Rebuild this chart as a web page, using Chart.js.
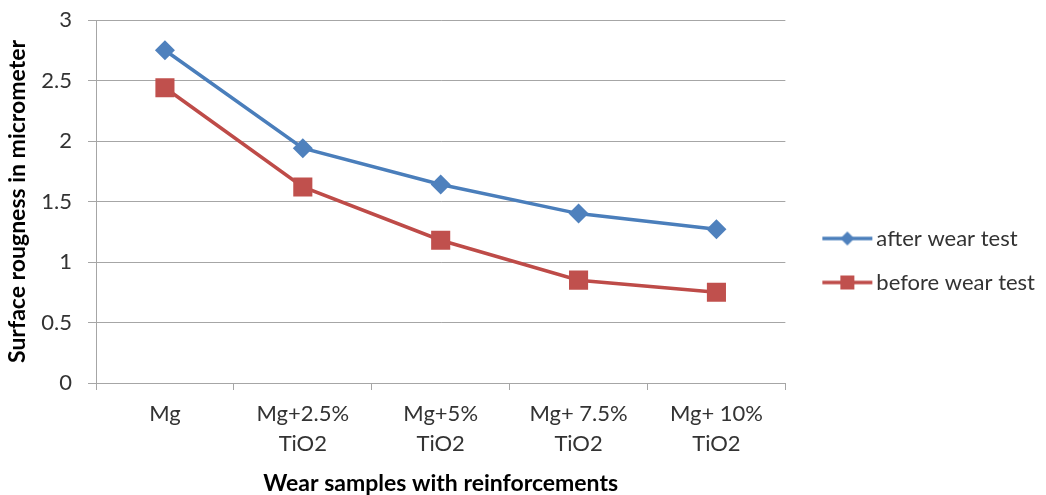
<!DOCTYPE html>
<html>
<head>
<meta charset="utf-8">
<script src="https://cdn.jsdelivr.net/npm/chart.js@4.4.1/dist/chart.umd.min.js"></script>
<style>
  html, body { margin: 0; padding: 0; background: #ffffff; }
  #wrap { width: 1046px; height: 495px; position: relative; }
</style>
</head>
<body>
<div id="wrap"><canvas id="c"></canvas></div>
<script>
// Sample categories (multi-line labels) and measured roughness values
const categories = [['Mg'], ['Mg+2.5%', 'TiO2'], ['Mg+5%', 'TiO2'], ['Mg+ 7.5%', 'TiO2'], ['Mg+ 10%', 'TiO2']];
const afterWear = [2.75, 1.94, 1.64, 1.40, 1.27];
const beforeWear = [2.44, 1.62, 1.18, 0.85, 0.75];
const seriesNames = ['after wear test', 'before wear test'];
const yTicks = [0, 0.5, 1, 1.5, 2, 2.5, 3];

const FONT = "Lato, 'Open Sans', 'Liberation Sans', sans-serif";
const BLUE = '#4A7EBB', BLUE_M = '#4F81BD';
const RED = '#BE4B48', RED_M = '#C0504D';
const GRID = '#A6A6A6';
const TEXT = '#333333';

// Legend swatch: a short line with the series marker in the middle.
// The image is wider than the legend box so the line can sit close to the text.
const SW_W = 100, SW_H = 24;
function swatch(lineColor, markColor, shape) {
  const cv = document.createElement('canvas');
  cv.width = SW_W; cv.height = SW_H;
  const g = cv.getContext('2d');
  const x0 = 36, x1 = 86, cx = 61, cy = SW_H / 2;
  g.strokeStyle = lineColor; g.lineWidth = 3.5;
  g.beginPath(); g.moveTo(x0, cy); g.lineTo(x1, cy); g.stroke();
  g.fillStyle = markColor;
  if (shape === 'diamond') {
    g.beginPath(); g.moveTo(cx, cy - 7); g.lineTo(cx + 7, cy); g.lineTo(cx, cy + 7); g.lineTo(cx - 7, cy); g.closePath(); g.fill();
  } else {
    g.fillRect(cx - 7, cy - 7, 14, 14);
  }
  return cv;
}
const swatches = [swatch(BLUE, BLUE_M, 'diamond'), swatch(RED, RED_M, 'square')];

new Chart(document.getElementById('c'), {
  type: 'line',
  data: {
    labels: categories,
    datasets: [
      {
        label: seriesNames[0], data: afterWear,
        borderColor: BLUE, backgroundColor: BLUE_M, borderWidth: 3.5,
        pointStyle: 'rectRot', pointRadius: 10, pointHoverRadius: 10,
        pointBackgroundColor: BLUE_M, pointBorderColor: BLUE_M, pointBorderWidth: 0,
        tension: 0
      },
      {
        label: seriesNames[1], data: beforeWear,
        borderColor: RED, backgroundColor: RED_M, borderWidth: 3.5,
        pointStyle: 'rect', pointRadius: 13.5, pointHoverRadius: 13.5,
        pointBackgroundColor: RED_M, pointBorderColor: RED_M, pointBorderWidth: 0,
        tension: 0
      }
    ]
  },
  options: {
    responsive: true,
    maintainAspectRatio: false,
    animation: false,
    events: [],
    layout: { padding: { left: 0, right: 1, top: 20, bottom: 0 } },
    scales: {
      x: {
        offset: true,
        afterFit: (s) => { s.height = 112; },
        grid: { display: true, drawOnChartArea: false, offset: true, drawTicks: true, tickLength: 7, color: GRID, lineWidth: 1 },
        border: { display: true, color: GRID, width: 1 },
        ticks: { color: TEXT, font: { family: FONT, size: 22, lineHeight: 1.36 }, padding: 9, maxRotation: 0, autoSkip: false },
        title: { display: true, text: 'Wear samples with reinforcements', color: '#000', font: { family: FONT, size: 23, weight: 'bold', lineHeight: 1 }, padding: { top: 0, bottom: 0 } }
      },
      y: {
        min: 0, max: 3,
        afterBuildTicks: (s) => { s.ticks = yTicks.map(v => ({ value: v })); },
        afterFit: (s) => { s.width = 96; s.paddingTop = 0; s.paddingBottom = 0; },
        grid: { color: GRID, lineWidth: 1, tickLength: 8 },
        border: { display: true, color: GRID, width: 1 },
        ticks: { color: TEXT, font: { family: FONT, size: 22 }, padding: 16, callback: (v) => String(v) },
        title: { display: true, text: 'Surface rougness in micrometer', color: '#000', font: { family: FONT, size: 23, weight: 'bold', lineHeight: 1.2 }, padding: { top: 4, bottom: 0 } }
      }
    },
    plugins: {
      tooltip: { enabled: false },
      legend: {
        position: 'right',
        align: 'center',
        title: { display: true, text: ' ', padding: 0, font: { size: 5 } },
        labels: {
          usePointStyle: true,
          pointStyleWidth: 58,
          padding: 22,
          color: TEXT,
          font: { family: FONT, size: 22 },
          generateLabels: (chart) => chart.data.datasets.map((ds, i) => ({
            text: ds.label,
            pointStyle: swatches[i],
            fillStyle: ds.borderColor,
            strokeStyle: ds.borderColor,
            lineWidth: 0,
            fontColor: TEXT,
            hidden: false,
            datasetIndex: i
          }))
        }
      }
    }
  }
});
</script>
</body>
</html>
